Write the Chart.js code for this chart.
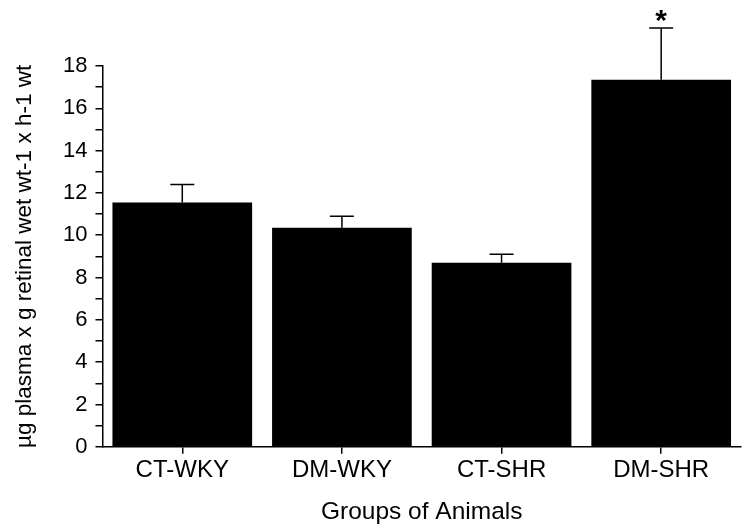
<!DOCTYPE html>
<html>
<head>
<meta charset="utf-8">
<script src="https://cdn.jsdelivr.net/npm/chart.js@4"></script>
<style>
  html, body { margin: 0; padding: 0; background: #fff; }
  #wrap { width: 747px; height: 527px; }
</style>
</head>
<body>
<div id="wrap"><canvas id="chart"></canvas></div>
<script>
// Data
const groups = ['CT-WKY', 'DM-WKY', 'CT-SHR', 'DM-SHR'];
const means = [11.55, 10.35, 8.7, 17.35];
const errors = [0.85, 0.55, 0.4, 2.45];
const marks = ['', '', '', '*'];

const FONT = 'Liberation Sans, Arial, sans-serif';

// Upward-only error bars plus significance marks
const errorBars = {
    id: 'errorBars',
    afterDatasetsDraw(chart) {
        const ctx = chart.ctx;
        const y = chart.scales.y;
        const meta = chart.getDatasetMeta(0);
        ctx.save();
        ctx.strokeStyle = '#000';
        ctx.lineWidth = 1.5;
        meta.data.forEach((bar, i) => {
            const top = y.getPixelForValue(means[i]);
            const end = y.getPixelForValue(means[i] + errors[i]);
            ctx.beginPath();
            ctx.moveTo(bar.x, top);
            ctx.lineTo(bar.x, end);
            ctx.moveTo(bar.x - 12, end);
            ctx.lineTo(bar.x + 12, end);
            ctx.stroke();
            if (marks[i]) {
                ctx.fillStyle = '#000';
                ctx.font = 'bold 30px ' + FONT;
                ctx.textAlign = 'center';
                ctx.textBaseline = 'bottom';
                ctx.fillText(marks[i], bar.x, end + 9);
            }
        });
        ctx.restore();
    }
};

new Chart(document.getElementById('chart'), {
    type: 'bar',
    data: {
        labels: groups,
        datasets: [{
            data: means,
            backgroundColor: '#000',
            borderWidth: 0,
            barPercentage: 0.875,
            categoryPercentage: 1.0
        }]
    },
    options: {
        responsive: true,
        maintainAspectRatio: false,
        animation: false,
        layout: { padding: { top: 66, right: 6, left: 11, bottom: 0 } },
        plugins: {
            legend: { display: false },
            tooltip: { enabled: false }
        },
        scales: {
            x: {
                grid: {
                    display: true,
                    drawOnChartArea: false,
                    offset: false,
                    tickLength: 7,
                    color: '#000',
                    lineWidth: 1.5
                },
                border: { color: '#000', width: 1.5 },
                ticks: {
                    color: '#000',
                    font: { family: FONT, size: 24 },
                    padding: 2
                },
                title: {
                    display: true,
                    text: 'Groups of Animals',
                    color: '#000',
                    font: { family: FONT, size: 24.5 },
                    padding: { top: 11, bottom: 0 }
                }
            },
            y: {
                min: 0,
                max: 18,
                grid: {
                    display: true,
                    drawOnChartArea: false,
                    tickLength: 7,
                    color: '#000',
                    lineWidth: 1.5
                },
                border: { color: '#000', width: 1.5 },
                ticks: {
                    stepSize: 1,
                    autoSkip: false,
                    color: '#000',
                    font: { family: FONT, size: 22 },
                    padding: 8,
                    callback: v => (v % 2 === 0 ? v : '')
                },
                title: {
                    display: true,
                    text: 'µg plasma x g retinal wet wt-1 x h-1 wt',
                    color: '#000',
                    font: { family: FONT, size: 22.5 },
                    padding: { top: 0, bottom: 17 }
                }
            }
        }
    },
    plugins: [errorBars]
});
</script>
</body>
</html>
